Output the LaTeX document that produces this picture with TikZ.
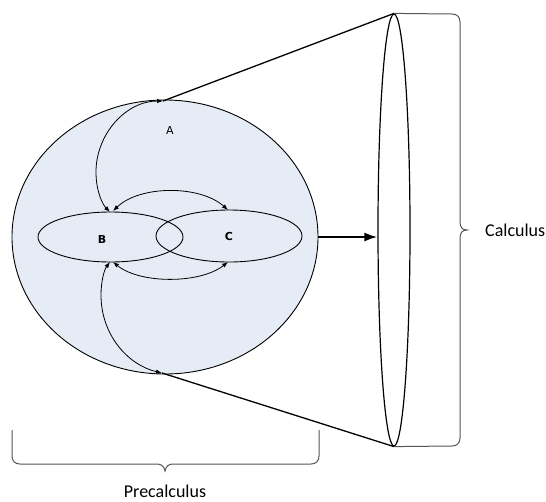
\documentclass[tikz,border=0pt]{standalone}
\usepackage{fontspec}
\setmainfont{Carlito}
\newfontfamily\labfont{DejaVu Sans}
\usetikzlibrary{shapes.geometric,arrows.meta}
\definecolor{pale}{RGB}{230,236,246}
\definecolor{bracegray}{RGB}{85,85,85}
\tikzset{
  oval/.style={draw=black, line width=0.9pt, ellipse, inner sep=0pt},
  dbl/.style={line width=0.8pt, {Latex[length=6pt,width=4.5pt]}-{Latex[length=6pt,width=4.5pt]}},
  coneline/.style={line width=1.3pt},
  bracepath/.style={draw=bracegray, line width=1pt},
  lab/.style={font=\labfont\fontsize{11}{13}\selectfont\bfseries},
  labA/.style={font=\labfont\fontsize{11}{13}\selectfont},
  bigtext/.style={font=\fontsize{18}{21}\selectfont, inner sep=0pt}
}
\begin{document}
\begin{tikzpicture}[x=1pt,y=-1pt]
\useasboundingbox (0,0) rectangle (546,501);
% big ellipse
\node[oval, fill=pale, minimum width=306pt, minimum height=274pt] (big) at (165,237) {};
% small ellipses
\node[oval, minimum width=145pt, minimum height=50pt] (B) at (110.5,237) {};
\node[oval, minimum width=146pt, minimum height=52pt] (C) at (229,236) {};
\node[labA] (la) at (170,130) {A};
\node[lab] (lb) at (102,239) {B};
\node[lab] (lc) at (229,236) {C};
% cone
\node[oval, line width=1.2pt, minimum width=32pt, minimum height=432pt] (cone) at (394,230) {};
\coordinate (ctop) at (cone.north);
\coordinate (cbot) at (cone.south);
\coordinate (atop) at (163,101);
\coordinate (abot) at (162,373);
\draw[coneline] (atop) -- (ctop);
\draw[coneline] (abot) -- (cbot);
% main arrow
\draw[line width=2pt, -{Latex[length=13pt,width=9pt]}] (big.east) -- (big.east -| cone.west);
% arcs
\draw[dbl] (atop) .. controls (126,101) and (96,134) .. (96,172) .. controls (96,192) and (103,205) .. (110,212);
\draw[dbl] (113,211) .. controls (140,185) and (200,185) .. (228,210);
\draw[dbl] (113,262) .. controls (140,284) and (200,284) .. (228,262);
\draw[dbl] (110,262) .. controls (104,270) and (101,282) .. (101,295) .. controls (101,335) and (128,365) .. (abot);
% right brace
\draw[bracepath] (ctop) -- (452,14) .. controls (457,14) and (460,17) .. (460,22) -- (460,222)
  .. controls (460,227) and (462,230) .. (467,230) .. controls (462,230) and (460,233) .. (460,238)
  -- (460,438) .. controls (460,443) and (457,446) .. (452,446) -- (cbot);
\node[bigtext, anchor=west] (calc) at (485,230) {Calculus};
% bottom brace
\coordinate (bl) at (12,430);
\coordinate (br) at (319,430);
\draw[bracepath] (bl) -- (12,456) .. controls (12,461) and (15,464) .. (20,464) -- (157,464)
  .. controls (161,464) and (164,466) .. (165,471) .. controls (166,466) and (169,464) .. (173,464)
  -- (311,464) .. controls (316,464) and (319,461) .. (319,456) -- (br);
\node[bigtext] (pre) at (165,491) {Precalculus};
\end{tikzpicture}
\end{document}
